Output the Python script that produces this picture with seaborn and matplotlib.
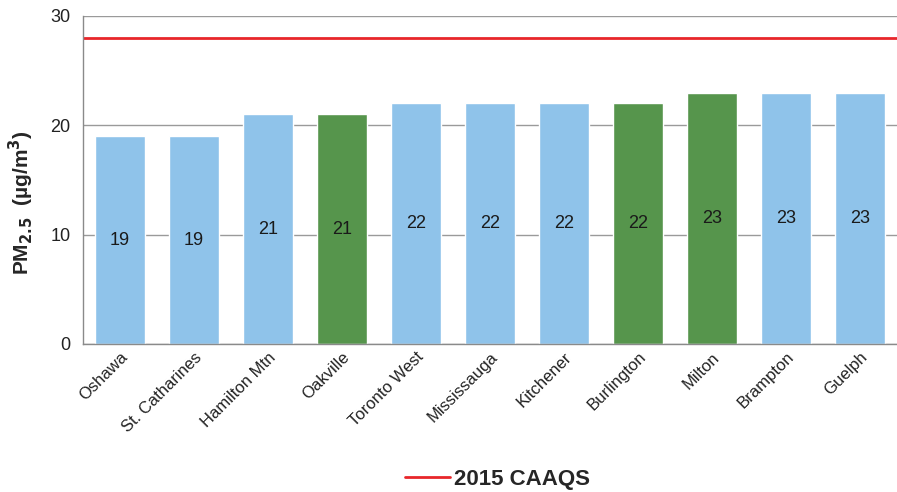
import matplotlib
matplotlib.use('Agg')
import seaborn as sns
import pandas as pd
import numpy as np
import matplotlib.pyplot as plt
from matplotlib.ticker import FixedLocator

stations = ["Oshawa", "St. Catharines", "Hamilton Mtn", "Oakville", "Toronto West",
            "Mississauga", "Kitchener", "Burlington", "Milton", "Brampton", "Guelph"]
pm25 = [19, 19, 21, 21, 22, 22, 22, 22, 23, 23, 23]
site_group = ["other", "other", "other", "halton", "other",
              "other", "other", "halton", "halton", "other", "other"]
caaqs_2015 = 28
y_ticks = [0, 10, 20, 30]

df = pd.DataFrame({"station": stations, "pm25": pm25, "group": site_group})

sns.set_style("white")
plt.rcParams['font.family'] = ['Liberation Sans', 'DejaVu Sans']

fig = plt.figure(figsize=(8.97, 4.92), dpi=100)
ax = fig.add_axes([0.0925, 0.301, 0.9075, 0.6665])

sns.barplot(data=df, x="station", y="pm25", hue="group",
            palette={"other": "#8FC3EA", "halton": "#56954C"},
            dodge=False, width=0.68, legend=False, ax=ax, saturation=1)

# value labels in the middle of each bar
for i, v in enumerate(pm25):
    ax.text(i, v / 2.0, str(v), ha="center", va="center", fontsize=13, color="#1a1a1a")

ax.axhline(y=caaqs_2015, color="#E8262A", linewidth=2, label="2015 CAAQS")

ax.set_ylim(0, 30)
ax.set_xlim(-0.5, len(stations) - 0.5)
ax.set_yticks(y_ticks)
ax.yaxis.grid(True, color="#9a9a9a", linewidth=1)
ax.set_axisbelow(True)
for s in ["top", "right"]:
    ax.spines[s].set_visible(False)
for s in ["left", "bottom"]:
    ax.spines[s].set_color("#8a8a8a")
    ax.spines[s].set_linewidth(1)

ax.tick_params(axis="y", length=4, color="#8a8a8a", labelsize=13, pad=5, labelcolor="#222222")
ax.tick_params(axis="x", which="major", length=0, labelsize=12, pad=4, labelcolor="#222222")
ax.xaxis.set_minor_locator(FixedLocator(np.arange(-0.5, len(stations), 1.0)))
ax.tick_params(axis="x", which="minor", length=5, color="#8a8a8a", width=1)
plt.setp(ax.get_xticklabels(), rotation=45, ha="right", rotation_mode="anchor")

ax.set_xlabel("")
ax.set_ylabel(r"PM$_\mathbf{2.5}$  (µg/m$^\mathbf{3}$)", fontsize=15, fontweight="bold")
ax.yaxis.set_label_coords(-0.058, 0.43)

leg = fig.legend(handles=[ax.lines[-1]], labels=["2015 CAAQS"], loc="center",
                 bbox_to_anchor=(0.555, 0.026), frameon=False, handlelength=2.0,
                 handletextpad=0.2, prop={"weight": "bold", "size": 16})

plt.savefig("out.png", dpi=100)
plt.close()
